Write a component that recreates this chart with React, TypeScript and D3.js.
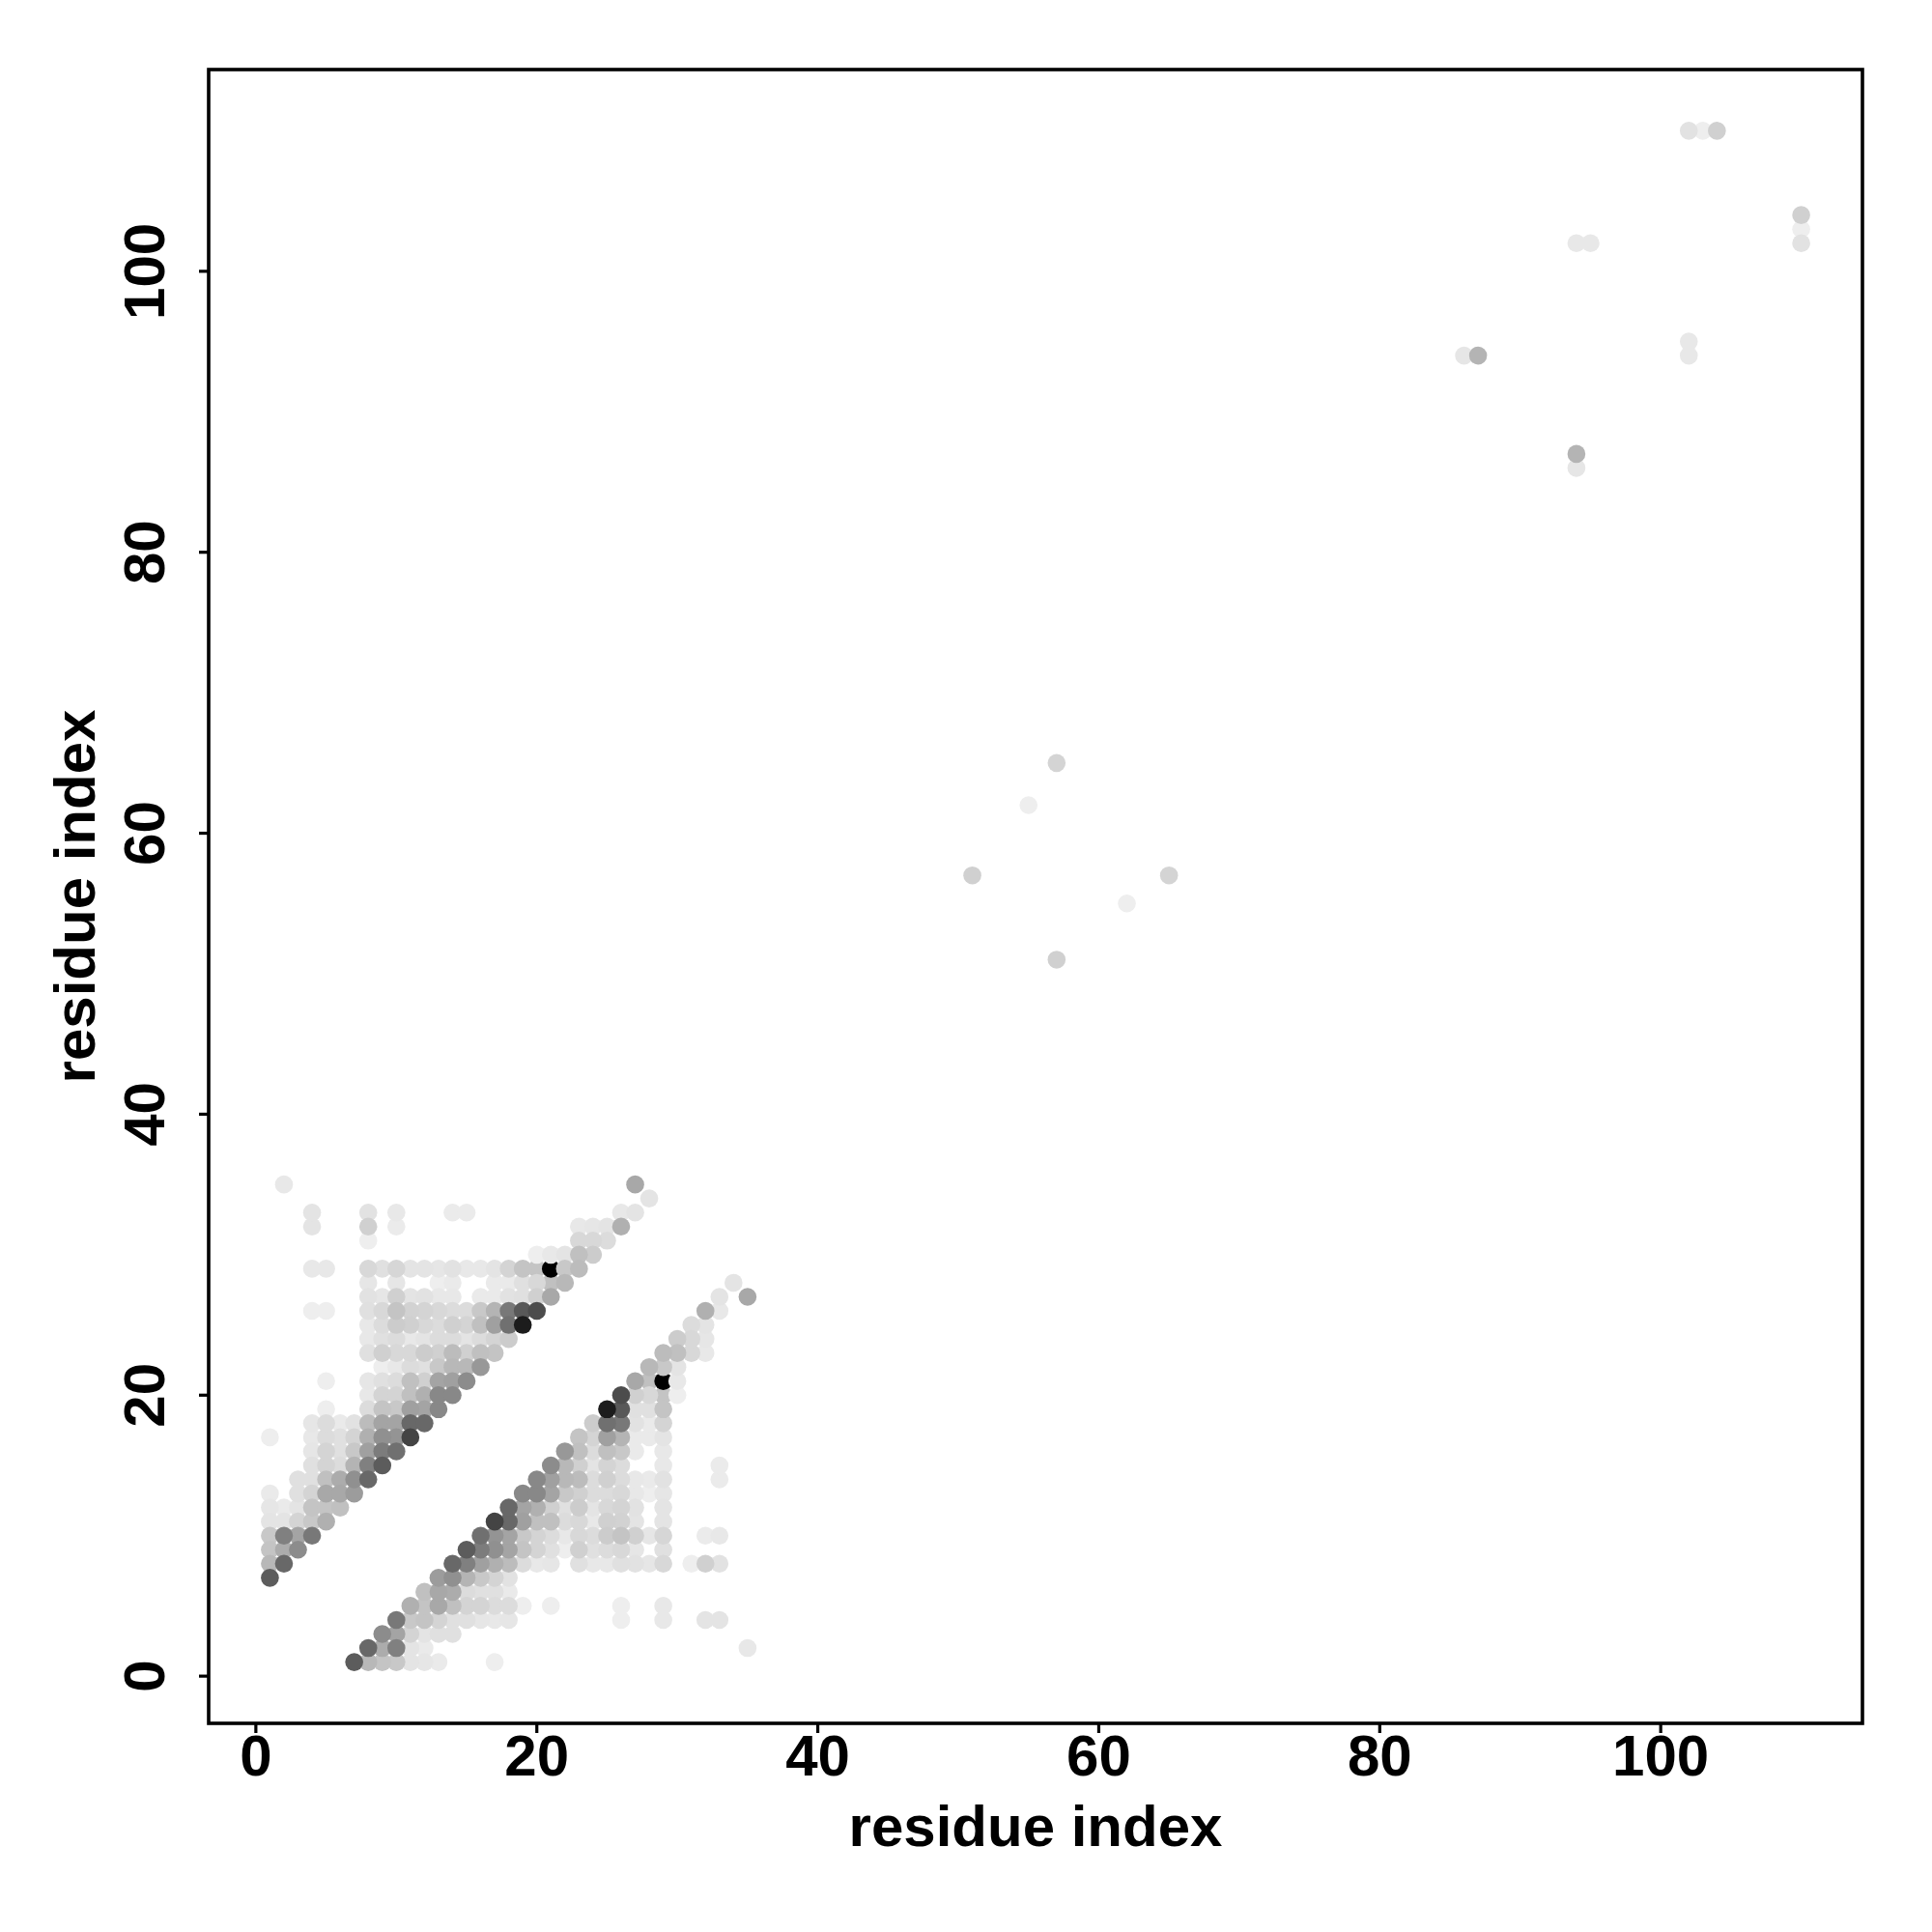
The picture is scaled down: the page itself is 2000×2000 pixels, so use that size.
import React from 'react';
import * as d3 from 'd3';

// [residue i, residue j, gray level], only i < j, the map is mirrored when drawn
const nTerminalContacts: [number, number, number][] = [
  [1, 7, 0x5c],
  [1, 8, 0xb8], [2, 8, 0x68],
  [1, 9, 0xc4], [2, 9, 0xac], [3, 9, 0x8c],
  [1, 10, 0xc8], [2, 10, 0x80], [3, 10, 0xa4], [4, 10, 0x78],
  [1, 11, 0xe4], [2, 11, 0xe4], [3, 11, 0xd4], [4, 11, 0xc8], [5, 11, 0xb0],
  [1, 12, 0xe6], [2, 12, 0xea], [3, 12, 0xe4], [4, 12, 0xc4], [5, 12, 0xc4], [6, 12, 0xc0],
  [1, 13, 0xea], [3, 13, 0xe0], [4, 13, 0xd4], [5, 13, 0xa8], [6, 13, 0xa8], [7, 13, 0x9c],
  [3, 14, 0xe0], [4, 14, 0xe0], [5, 14, 0xc0], [6, 14, 0xac], [7, 14, 0x90], [8, 14, 0x68],
  [4, 15, 0xe0], [5, 15, 0xd4], [6, 15, 0xdc], [7, 15, 0xb4], [8, 15, 0x80], [9, 15, 0x5c],
  [4, 16, 0xe6], [5, 16, 0xd4], [6, 16, 0xe0], [7, 16, 0xc8], [8, 16, 0xa0], [9, 16, 0x7c], [10, 16, 0x70],
  [1, 17, 0xee], [4, 17, 0xe8], [5, 17, 0xdc], [6, 17, 0xe0], [7, 17, 0xd4], [8, 17, 0xb0], [9, 17, 0x90], [10, 17, 0x94], [11, 17, 0x44],
  [4, 18, 0xe6], [5, 18, 0xdc], [6, 18, 0xea], [7, 18, 0xe2], [8, 18, 0xbc], [9, 18, 0xa4], [10, 18, 0xa4], [11, 18, 0x68], [12, 18, 0x68],
  [5, 19, 0xee], [8, 19, 0xdc], [9, 19, 0xc4], [10, 19, 0xc8], [11, 19, 0xa0], [12, 19, 0xa4], [13, 19, 0x88],
  [8, 20, 0xe8], [9, 20, 0xd4], [10, 20, 0xd4], [11, 20, 0xc0], [12, 20, 0xb0], [13, 20, 0x88], [14, 20, 0x88],
  [5, 21, 0xee], [8, 21, 0xe6], [9, 21, 0xe0], [10, 21, 0xdc], [11, 21, 0xc0], [12, 21, 0xd0], [13, 21, 0xa4], [14, 21, 0xa0], [15, 21, 0x8c],
  [9, 22, 0xee], [10, 22, 0xe8], [11, 22, 0xdc], [12, 22, 0xe0], [13, 22, 0xc8], [14, 22, 0xb8], [15, 22, 0xb8], [16, 22, 0x98],
  [8, 23, 0xe0], [9, 23, 0xd0], [10, 23, 0xd8], [11, 23, 0xd8], [12, 23, 0xcc], [13, 23, 0xd0], [14, 23, 0xbc], [15, 23, 0xd0], [16, 23, 0xc0], [17, 23, 0xc4],
  [8, 24, 0xe8], [9, 24, 0xe0], [10, 24, 0xdc], [11, 24, 0xe8], [12, 24, 0xe4], [13, 24, 0xdc], [14, 24, 0xdc], [15, 24, 0xe4], [16, 24, 0xdc], [17, 24, 0xd4], [18, 24, 0xcc],
  [8, 25, 0xe8], [9, 25, 0xdc], [10, 25, 0xcc], [11, 25, 0xd0], [12, 25, 0xd8], [13, 25, 0xdc], [14, 25, 0xd0], [15, 25, 0xd4], [16, 25, 0xc0], [17, 25, 0xa0], [18, 25, 0x70], [19, 25, 0x1c],
  [8, 26, 0xe0], [9, 26, 0xd8], [10, 26, 0xc4], [11, 26, 0xd2], [12, 26, 0xd4], [13, 26, 0xd8], [14, 26, 0xdc], [15, 26, 0xdc], [16, 26, 0xc8], [17, 26, 0xb4], [18, 26, 0x78], [19, 26, 0x58], [20, 26, 0x4c],
  [8, 27, 0xe2], [9, 27, 0xe6], [10, 27, 0xd0], [11, 27, 0xe4], [12, 27, 0xe2], [13, 27, 0xe8], [14, 27, 0xe8], [16, 27, 0xea], [17, 27, 0xea], [18, 27, 0xe2], [19, 27, 0xe0], [20, 27, 0xd0], [21, 27, 0xa8],
  [8, 28, 0xe6], [10, 28, 0xe6], [13, 28, 0xee], [14, 28, 0xea], [17, 28, 0xea], [18, 28, 0xea], [19, 28, 0xe0], [20, 28, 0xd8], [21, 28, 0xc0], [22, 28, 0xb8],
  [4, 29, 0xe8], [5, 29, 0xe8], [8, 29, 0xd8], [9, 29, 0xe0], [10, 29, 0xd6], [11, 29, 0xe4], [12, 29, 0xe4], [13, 29, 0xe6], [14, 29, 0xe2], [15, 29, 0xe8], [16, 29, 0xe8], [17, 29, 0xe4], [18, 29, 0xd4], [19, 29, 0xc4], [20, 29, 0xc4], [21, 29, 0x00], [22, 29, 0xc8], [23, 29, 0xbc],
  [20, 30, 0xee], [21, 30, 0xe8], [22, 30, 0xe4], [23, 30, 0xc0], [24, 30, 0xcc],
  [8, 31, 0xee], [23, 31, 0xd8], [24, 31, 0xd8], [25, 31, 0xdc],
  [4, 32, 0xe4], [8, 32, 0xd0], [10, 32, 0xeb], [23, 32, 0xe8], [24, 32, 0xe6], [25, 32, 0xe4], [26, 32, 0xb0],
  [4, 33, 0xe4], [8, 33, 0xe2], [10, 33, 0xe8], [14, 33, 0xeb], [15, 33, 0xeb], [26, 33, 0xe8], [27, 33, 0xe4],
  [28, 34, 0xe4],
  [2, 35, 0xe8], [27, 35, 0xa8],
  [4, 26, 0xee], [5, 26, 0xee],
];

const middleContacts: [number, number, number][] = [
  [57, 65, 0xd4], [55, 62, 0xee], [51, 57, 0xd0],
];

const cTerminalContacts: [number, number, number][] = [
  [102, 110, 0xe2], [103, 110, 0xee], [104, 110, 0xd0],
  [94, 102, 0xe8], [95, 102, 0xe8],
  [86, 94, 0xe6], [87, 94, 0xb4],
];

// the black dots sit over their left/lower neighbours but under the others
const drawnFirst = ['20,29', '21,28', '21,29', '29,20', '28,21', '29,21'];

const xTicks = [0, 20, 40, 60, 80, 100];
const yTicks = [0, 20, 40, 60, 80, 100];
const axisDomain: [number, number] = [-3.36, 114.36];
const axisTitle = 'residue index';

const App: React.FC = () => {
  const left = 216;
  const right = 1928;
  const top = 72;
  const bottom = 1784;
  const fontSize = 60;
  const font = '"Liberation Sans", Arial, sans-serif';

  const x = d3.scaleLinear().domain(axisDomain).range([left, right]);
  const y = d3.scaleLinear().domain(axisDomain).range([bottom, top]);
  const gray = d3.scaleLinear<string>().domain([0, 255]).range(['#000000', '#ffffff']);

  const all = [...nTerminalContacts, ...middleContacts, ...cTerminalContacts];
  const points = all.flatMap(([i, j, g]) => [
    { px: i, py: j, g },
    { px: j, py: i, g },
  ]);
  // darker dots on top, except the ones listed above
  const firstRank = (d: { px: number; py: number }) => {
    const k = drawnFirst.indexOf(`${d.px},${d.py}`);
    return k < 0 ? drawnFirst.length : k;
  };
  const sorted = points.slice().sort((a, b) => {
    return d3.ascending(firstRank(a), firstRank(b)) || d3.descending(a.g, b.g);
  });

  return (
    <svg
      width={2000}
      height={2000}
      style={{ position: 'absolute', left: 0, top: 0, background: '#fff' }}
    >
      {sorted.map(d => (
        <circle key={`${d.px}-${d.py}`} cx={x(d.px)} cy={y(d.py)} r={9.3} fill={gray(d.g)} />
      ))}

      <rect x={left} y={top} width={right - left} height={bottom - top} fill="none" stroke="#000" strokeWidth={3.6} />

      {xTicks.map(t => (
        <g key={`x${t}`}>
          <line x1={x(t)} x2={x(t)} y1={bottom} y2={bottom + 10} stroke="#000" strokeWidth={3.2} />
          <text x={x(t)} y={1838} textAnchor="middle" fontFamily={font} fontWeight="bold" fontSize={fontSize}>{t}</text>
        </g>
      ))}
      {yTicks.map(t => (
        <g key={`y${t}`}>
          <line x1={left - 10} x2={left} y1={y(t)} y2={y(t)} stroke="#000" strokeWidth={3.2} />
          <text
            transform={`translate(170,${y(t)}) rotate(-90)`}
            textAnchor="middle"
            fontFamily={font}
            fontWeight="bold"
            fontSize={fontSize}
          >
            {t}
          </text>
        </g>
      ))}

      <text x={(left + right) / 2} y={1911} textAnchor="middle" fontFamily={font} fontWeight="bold" fontSize={fontSize}>
        {axisTitle}
      </text>
      <text
        transform={`translate(98,${(top + bottom) / 2}) rotate(-90)`}
        textAnchor="middle"
        fontFamily={font}
        fontWeight="bold"
        fontSize={fontSize}
      >
        {axisTitle}
      </text>
    </svg>
  );
};

export default App;
